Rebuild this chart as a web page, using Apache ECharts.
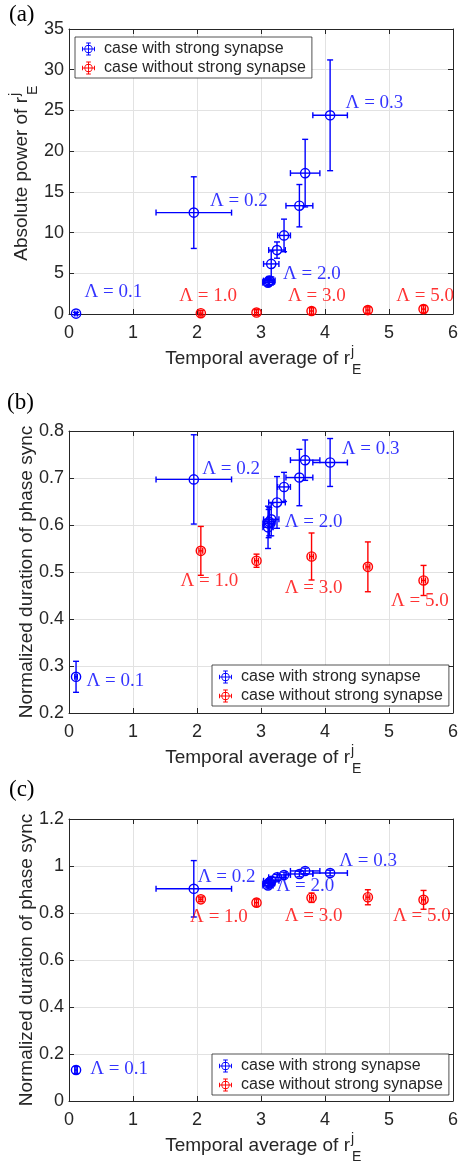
<!DOCTYPE html>
<html>
<head>
<meta charset="utf-8">
<script src="https://cdn.jsdelivr.net/npm/echarts@6/dist/echarts.min.js"></script>
<style>html,body{margin:0;padding:0;background:#fff}#c{width:461px;height:1165px}</style>
</head>
<body>
<div id="c"></div>
<script>
// ---------- data ----------
const seriesNames = ['case with strong synapse', 'case without strong synapse'];

const blueX    = [0.11, 1.95, 4.08, 3.69, 3.60, 3.36, 3.25, 3.16, 3.13, 3.12, 3.11];
const blueXErr = [0.02, 0.59, 0.27, 0.23, 0.21, 0.10, 0.13, 0.12, 0.09, 0.09, 0.08];
const redX     = [2.06, 2.93, 3.79, 4.67, 5.54];
const redXErr  = [0.03, 0.03, 0.03, 0.03, 0.03];

// panel (a): absolute power
const blueA    = [0.05, 12.45, 24.4, 17.3, 13.3, 9.65, 7.85, 6.15, 4.1, 3.95, 3.85];
const blueAErr = [0.15, 4.4, 6.8, 4.15, 2.6, 2.0, 1.0, 1.6, 0.5, 0.45, 0.4];
const redA     = [0.1, 0.18, 0.37, 0.48, 0.6];
const redAErr  = [0.35, 0.35, 0.4, 0.4, 0.45];

// panel (b): normalized duration of phase sync
const blueB    = [0.277, 0.697, 0.733, 0.738, 0.701, 0.681, 0.648, 0.612, 0.607, 0.603, 0.595];
const blueBErr = [0.033, 0.095, 0.051, 0.043, 0.060, 0.031, 0.055, 0.035, 0.030, 0.030, 0.045];
const redB     = [0.545, 0.524, 0.533, 0.511, 0.482];
const redBErr  = [0.052, 0.014, 0.050, 0.053, 0.032];

// panel (c): normalized duration of phase sync
const blueC    = [0.132, 0.903, 0.970, 0.979, 0.966, 0.962, 0.952, 0.937, 0.930, 0.925, 0.917];
const blueCErr = [0.015, 0.120, 0.012, 0.012, 0.012, 0.012, 0.012, 0.015, 0.015, 0.015, 0.015];
const redC     = [0.858, 0.844, 0.865, 0.867, 0.856];
const redCErr  = [0.010, 0.015, 0.020, 0.032, 0.040];

// tick settings
const xTicks = {min: 0, max: 6, interval: 1};
const yTicksA = {min: 0, max: 35, interval: 5};
const yTicksB = {min: 0.2, max: 0.8, interval: 0.1};
const yTicksC = {min: 0, max: 1.2, interval: 0.2};

// text annotations [text, x, y] (anchor = left/middle of text)
const annBlueA = [['Λ = 0.1', 0.25, 2.6], ['Λ = 0.2', 2.21, 13.8], ['Λ = 0.3', 4.33, 25.9], ['Λ = 2.0', 3.35, 4.8]];
const annRedA  = [['Λ = 1.0', 1.73, 2.1], ['Λ = 3.0', 3.43, 2.2], ['Λ = 5.0', 5.12, 2.2]];
const annBlueB = [['Λ = 0.1', 0.28, 0.268], ['Λ = 0.2', 2.09, 0.719], ['Λ = 0.3', 4.27, 0.760], ['Λ = 2.0', 3.38, 0.606]];
const annRedB  = [['Λ = 1.0', 1.75, 0.479], ['Λ = 3.0', 3.38, 0.464], ['Λ = 5.0', 5.04, 0.438]];
const annBlueC = [['Λ = 0.1', 0.34, 0.132], ['Λ = 0.2', 2.02, 0.953], ['Λ = 0.3', 4.23, 1.021], ['Λ = 2.0', 3.25, 0.911]];
const annRedC  = [['Λ = 1.0', 1.90, 0.779], ['Λ = 3.0', 3.38, 0.783], ['Λ = 5.0', 5.07, 0.783]];

// ---------- layout / style ----------
const BLUE = '#0000ff', RED = '#ff0000', INK = '#262626', GRIDC = '#e2e2e2';
const SANS = '"Liberation Sans", Arial, Helvetica, sans-serif';
const SERIF = '"Liberation Serif", "Times New Roman", serif';
const PLOT_L = 69, PLOT_W = 388;
const GRIDS = [{top: 29, height: 285}, {top: 431, height: 282}, {top: 819, height: 282}];
const LEGS = [{left: 75, top: 37}, {left: 212, top: 665}, {left: 212, top: 1054}];
const PANEL_LABELS = [['(a)', 9, 15], ['(b)', 7, 403], ['(c)', 9, 790]];

const panels = [
  {y: yTicksA, blue: [blueA, blueAErr], red: [redA, redAErr], annB: annBlueA, annR: annRedA, ytitle: 'Absolute power of r', sub: true, yx: 22},
  {y: yTicksB, blue: [blueB, blueBErr], red: [redB, redBErr], annB: annBlueB, annR: annRedB, ytitle: 'Normalized duration of phase sync', sub: false, yx: 27},
  {y: yTicksC, blue: [blueC, blueCErr], red: [redC, redCErr], annB: annBlueC, annR: annRedC, ytitle: 'Normalized duration of phase sync', sub: false, yx: 27}
];

function fmt(v) { return String(+(+v).toFixed(2)); }

function makeRender(color) {
  return function (params, api) {
    const x = api.value(0), y = api.value(1);
    const c = api.coord([x, y]);
    const l = api.coord([api.value(2), y]), r = api.coord([api.value(3), y]);
    const b = api.coord([x, api.value(4)]), t = api.coord([x, api.value(5)]);
    const cap = 3;
    const cx = c[0], cy = c[1];
    const L = (x1, y1, x2, y2) => ({type: 'line', shape: {x1, y1, x2, y2}, style: {stroke: color, lineWidth: 1.4}});
    return {type: 'group', children: [
      L(l[0], cy, r[0], cy), L(l[0], cy - cap, l[0], cy + cap), L(r[0], cy - cap, r[0], cy + cap),
      L(cx, t[1], cx, b[1]), L(cx - cap, t[1], cx + cap, t[1]), L(cx - cap, b[1], cx + cap, b[1]),
      {type: 'circle', shape: {cx: cx, cy: cy, r: 4.6}, style: {stroke: color, fill: 'none', lineWidth: 1.4}}
    ]};
  };
}

function errSeries(name, gi, xs, xe, ys, ye, color) {
  return {
    name, type: 'custom', xAxisIndex: gi * 2, yAxisIndex: gi * 2,
    itemStyle: {color}, renderItem: makeRender(color), silent: true, z: 5,
    encode: {x: [0, 2, 3], y: [1, 4, 5]},
    data: xs.map((x, i) => [x, ys[i], x - xe[i], x + xe[i], ys[i] - ye[i], ys[i] + ye[i]])
  };
}

function annSeries(gi, arr, color) {
  return {
    name: 'ann' + gi + color, type: 'scatter', xAxisIndex: gi * 2, yAxisIndex: gi * 2,
    symbol: 'circle', symbolSize: 1, itemStyle: {color: 'rgba(0,0,0,0)'}, silent: true, z: 6,
    data: arr.map(a => ({name: a[0], value: [a[1], a[2]]})),
    label: {show: true, position: [0, 0], align: 'left', verticalAlign: 'middle',
      formatter: p => p.name, fontFamily: SERIF, fontSize: 19, color: color}
  };
}

const ICON = 'path://M0 6.5h14v1H0zM0 4.5h1v5H0zM13 4.5h1v5h-1zM6.5 0h1v14h-1zM4.5 0h5v1h-5zM4.5 13h5v1h-5zM7 2.5a4.5 4.5 0 1 1 0 9a4.5 4.5 0 1 1 0-9zM7 3.5a3.5 3.5 0 1 0 0 7a3.5 3.5 0 1 0 0-7z';

const grid = [], xAxis = [], yAxis = [], series = [], legend = [], graphic = [];

panels.forEach((p, gi) => {
  const g = GRIDS[gi];
  grid.push({left: PLOT_L, width: PLOT_W, top: g.top, height: g.height, containLabel: false});
  const axisLine = {show: true, onZero: false, lineStyle: {color: INK, width: 1}};
  const tick = {show: true, inside: true, length: 5, lineStyle: {color: INK}};
  xAxis.push({type: 'value', gridIndex: gi, position: 'bottom', ...xTicks, axisLine, axisTick: tick,
    axisLabel: {fontFamily: SANS, fontSize: 18, color: INK, margin: 10, formatter: fmt},
    splitLine: {show: true, lineStyle: {color: GRIDC, width: 1}}});
  xAxis.push({type: 'value', gridIndex: gi, position: 'top', ...xTicks, axisLine, axisTick: tick,
    axisLabel: {show: false}, splitLine: {show: false}});
  yAxis.push({type: 'value', gridIndex: gi, position: 'left', ...p.y, axisLine, axisTick: tick,
    axisLabel: {fontFamily: SANS, fontSize: 18, color: INK, margin: 5, formatter: fmt},
    splitLine: {show: true, lineStyle: {color: GRIDC, width: 1}}});
  yAxis.push({type: 'value', gridIndex: gi, position: 'right', ...p.y, axisLine, axisTick: tick,
    axisLabel: {show: false}, splitLine: {show: false}});

  series.push(errSeries(seriesNames[0], gi, blueX, blueXErr, p.blue[0], p.blue[1], BLUE));
  series.push(errSeries(seriesNames[1], gi, redX, redXErr, p.red[0], p.red[1], RED));
  series.push(annSeries(gi, p.annB, BLUE));
  series.push(annSeries(gi, p.annR, RED));

  legend.push({
    left: LEGS[gi].left, top: LEGS[gi].top, orient: 'vertical', selectedMode: false,
    data: seriesNames.map(n => ({name: n, icon: ICON})),
    itemWidth: 21, itemHeight: 13, itemGap: 3, symbolKeepAspect: true,
    textStyle: {fontFamily: SANS, fontSize: 16, color: INK, lineHeight: 16},
    borderColor: INK, borderWidth: 0.8, backgroundColor: '#fff', borderRadius: 0,
    padding: [4, 6, 2, 7]
  });

  // x-axis title with sub/superscript
  const bottom = g.top + g.height;
  graphic.push({type: 'text', x: 350, y: bottom + 45, silent: true,
    style: {text: 'Temporal average of r', font: '19px ' + SANS, fill: INK, align: 'right', verticalAlign: 'middle'}});
  graphic.push({type: 'text', x: 351, y: bottom + 38, silent: true,
    style: {text: 'j', font: '14px ' + SANS, fill: INK, align: 'left', verticalAlign: 'middle'}});
  graphic.push({type: 'text', x: 352, y: bottom + 56, silent: true,
    style: {text: 'E', font: '14px ' + SANS, fill: INK, align: 'left', verticalAlign: 'middle'}});

  // y-axis title
  if (p.sub) {
    graphic.push({type: 'group', x: p.yx, y: 97, rotation: Math.PI / 2, silent: true, children: [
      {type: 'text', x: 0, y: 0, style: {text: p.ytitle, font: '19px ' + SANS, fill: INK, align: 'right', verticalAlign: 'middle'}},
      {type: 'text', x: 1, y: -7, style: {text: 'j', font: '14px ' + SANS, fill: INK, align: 'left', verticalAlign: 'middle'}},
      {type: 'text', x: 2, y: 11, style: {text: 'E', font: '14px ' + SANS, fill: INK, align: 'left', verticalAlign: 'middle'}}
    ]});
  } else {
    graphic.push({type: 'group', x: p.yx, y: g.top + g.height / 2, rotation: Math.PI / 2, silent: true, children: [
      {type: 'text', x: 0, y: 0, style: {text: p.ytitle, font: '19px ' + SANS, fill: INK, align: 'center', verticalAlign: 'middle'}}
    ]});
  }
});

PANEL_LABELS.forEach(([t, x, y]) => {
  graphic.push({type: 'text', x, y, silent: true,
    style: {text: t, font: '23px ' + SERIF, fill: '#000', align: 'left', verticalAlign: 'middle'}});
});

const chart = echarts.init(document.getElementById('c'), null, {renderer: 'canvas'});
chart.setOption({
  animation: false,
  backgroundColor: '#fff',
  grid, xAxis, yAxis, series, legend, graphic
});
</script>
</body>
</html>
